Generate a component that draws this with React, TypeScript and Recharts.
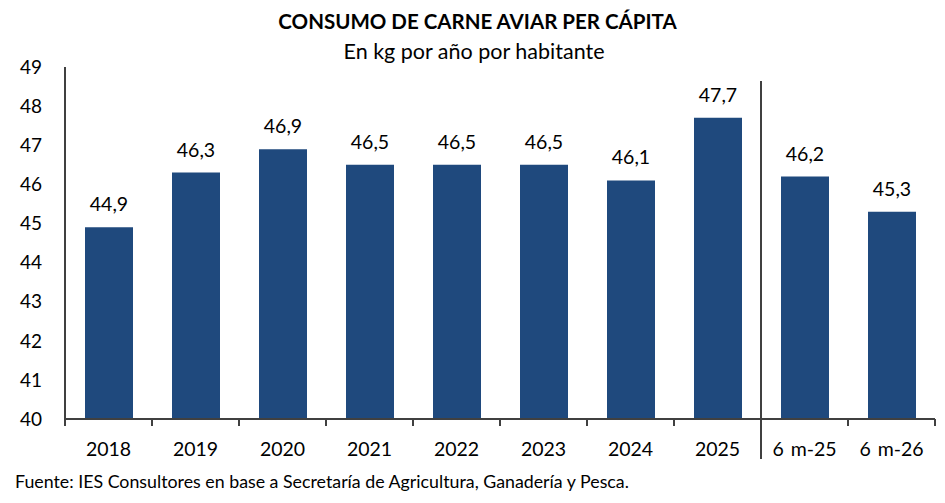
import { Bar, BarChart, LabelList, ReferenceLine, XAxis, YAxis } from "recharts";

const categories = ["2018", "2019", "2020", "2021", "2022", "2023", "2024", "2025", "6 m-25", "6 m-26"];
const consumo = [44.9, 46.3, 46.9, 46.5, 46.5, 46.5, 46.1, 47.7, 46.2, 45.3];
const yTicks = [40, 41, 42, 43, 44, 45, 46, 47, 48, 49];

const data = categories.map((name, i) => ({ name, value: consumo[i] }));

const FONT = "Lato, 'Open Sans', sans-serif";
const AXIS = "#404040";
const BAR = "#1F497D";
const HALF_BAND = 43.5;

function XTick(props: any) {
  const { x, y, payload, index } = props;
  const last = index === categories.length - 1;
  return (
    <g>
      <line x1={x - HALF_BAND} x2={x - HALF_BAND} y1={y} y2={y + 7} stroke={AXIS} strokeWidth={2} />
      {last && <line x1={x + HALF_BAND} x2={x + HALF_BAND} y1={y} y2={y + 7} stroke={AXIS} strokeWidth={2} />}
      <text x={x} y={y + 37} textAnchor="middle" fontSize={19.5} fill="#000" fontFamily={FONT} style={{ wordSpacing: 2 }}>
        {payload.value}
      </text>
    </g>
  );
}

export default function App() {
  return (
    <div style={{ position: "absolute", left: 0, top: 0, width: 945, height: 503, background: "#fff", fontFamily: FONT }}>
      <div style={{ position: "absolute", top: 9, width: 955, textAlign: "center", fontWeight: 700, fontSize: 20.5 }}>
        CONSUMO DE CARNE AVIAR PER CÁPITA
      </div>
      <div style={{ position: "absolute", top: 38, width: 948, textAlign: "center", fontSize: 21.5 }}>
        En kg por año por habitante
      </div>
      <BarChart width={945} height={503} data={data} margin={{ top: 67, right: 10, bottom: 44, left: 8 }} barSize={48}>
        <YAxis
          domain={[40, 49]}
          ticks={yTicks}
          interval={0}
          width={57}
          tickLine={false}
          tickSize={0}
          tickMargin={23}
          axisLine={{ stroke: AXIS, strokeWidth: 2 }}
          tick={{ fill: "#000", fontSize: 19, fontFamily: FONT }}
        />
        <XAxis
          dataKey="name"
          height={40}
          interval={0}
          tickLine={false}
          tickSize={0}
          tickMargin={0}
          axisLine={{ stroke: AXIS, strokeWidth: 2 }}
          tick={<XTick />}
        />
        <ReferenceLine
          x="6 m-25"
          position="start"
          ifOverflow="visible"
          shape={(p: any) => (
            <line x1={p.x1} x2={p.x2} y1={Math.min(p.y1, p.y2) + 14} y2={Math.max(p.y1, p.y2) + 40} stroke={AXIS} strokeWidth={2} />
          )}
        />
        <Bar dataKey="value" fill={BAR} isAnimationActive={false}>
          <LabelList
            dataKey="value"
            position="top"
            offset={16}
            formatter={(v: any) => String(v).replace(".", ",")}
            style={{ fill: "#000", fontSize: 19.5, fontFamily: FONT }}
          />
        </Bar>
      </BarChart>
      <div style={{ position: "absolute", top: 470, left: 15, fontSize: 17.8 }}>
        Fuente: IES Consultores en base a Secretaría de Agricultura, Ganadería y Pesca.
      </div>
    </div>
  );
}
